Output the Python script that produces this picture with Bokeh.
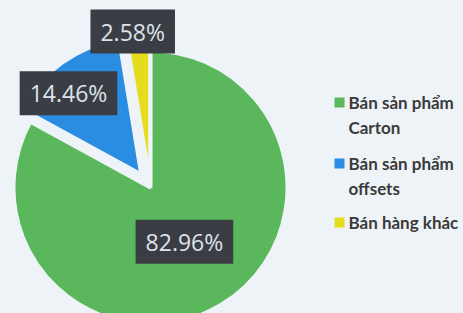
import math
from bokeh.plotting import figure
from bokeh.models import Range1d, Label
from bokeh.core.properties import value
from bokeh.embed import file_html
from bokeh.resources import INLINE

# ---- data ----
categories = ["Bán sản phẩm\nCarton", "Bán sản phẩm\noffsets", "Bán hàng khác"]
shares = [82.96, 14.46, 2.58]
pct_labels = ["82.96%", "14.46%", "2.58%"]
colors = ["#5ab75c", "#2b8de2", "#e4dc1c"]

# ---- layout (positions / styles) ----
BG = "#eef3f8"
W, H = 463, 313
cx, cy, R = 150, 126, 137
explode = [0, 16, 5]
label_polar = [(-58, 64), (131, 125), (96.5, 157)]  # angle deg, distance
legend_x = 339
legend_y = [211, 150, 91]

p = figure(width=W, height=H, output_backend="svg", toolbar_location=None,
           x_range=Range1d(0, W), y_range=Range1d(0, H),
           min_border=0, match_aspect=False)
p.axis.visible = False
p.grid.visible = False
p.outline_line_color = None
p.background_fill_color = BG
p.border_fill_color = BG

total = sum(shares)
xs, ys, starts, ends = [], [], [], []
cum = 0.0
for i, s in enumerate(shares):
    a0 = 90 - cum / total * 360
    cum += s
    a1 = 90 - cum / total * 360
    mid = math.radians((a0 + a1) / 2)
    xs.append(cx + explode[i] * math.cos(mid))
    ys.append(cy + explode[i] * math.sin(mid))
    starts.append(math.radians(a0))
    ends.append(math.radians(a1))

p.wedge(x=xs, y=ys, radius=R, start_angle=starts, end_angle=ends,
        direction="clock", fill_color=colors, line_color=BG, line_width=4)

for (ang, dist), txt in zip(label_polar, pct_labels):
    a = math.radians(ang)
    p.add_layout(Label(x=cx + dist * math.cos(a), y=cy + dist * math.sin(a),
                       text=txt, anchor="center", text_align="center",
                       text_baseline="middle",
                       text_font="Open Sans", text_font_size="23px",
                       text_color="#dde3e8",
                       background_fill_color="#3a3e44", background_fill_alpha=1.0,
                       padding=dict(left=10, right=10, top=6, bottom=6)))

p.scatter(x=[legend_x] * 3, y=legend_y, marker="square", size=10,
          fill_color=colors, line_color=None)
p.text(x=[legend_x + 9] * 3, y=[v + 11 for v in legend_y], text=categories,
       text_font=value("Lato"), text_font_style="bold", text_font_size="17px",
       text_color="#3a3a3a", text_baseline="top", text_align="left",
       text_line_height=1.2)

html = file_html(p, INLINE)
html = html.replace("</head>", "<style>html,body{background:%s;}</style></head>" % BG, 1)
open("out.html", "w").write(html)
